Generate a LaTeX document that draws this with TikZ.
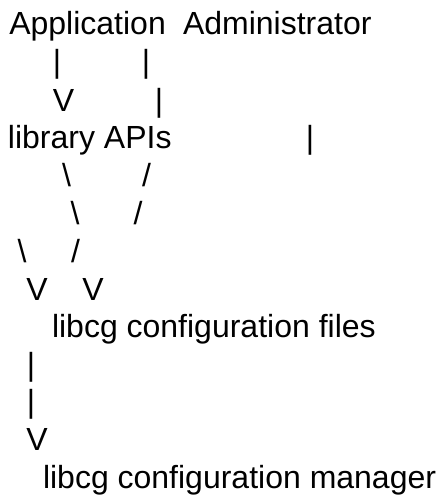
\documentclass[tikz,border=0pt]{standalone}
\usepackage{fontspec}
\setmainfont{Liberation Sans}
\begin{document}
\begin{tikzpicture}[x=1pt,y=-1pt,
  txt/.style={inner sep=0pt, outer sep=0pt, font=\fontsize{32}{38}\selectfont},
  word/.style={txt, anchor=base west},
  glyph/.style={txt, anchor=base}]
\useasboundingbox[fill=white] (0,0) rectangle (439,495);
% line 1
\node[word] (app) at (9.3,35) {Application};
\node[word] (adm) at (183,35) {Administrator};
% line 2
\node[glyph] (p21) at (57,72.7) {|};
\node[glyph] (p22) at (146,72.7) {|};
% line 3
\node[glyph] (v31) at (63.5,111) {V};
\node[glyph] (p32) at (159,111) {|};
% line 4
\node[word] (lib) at (8,148) {library APIs};
\node[glyph] (p41) at (310,148) {|};
% line 5
\node[glyph] (b51) at (66.5,186.5) {\textbackslash};
\node[glyph] (s52) at (146.5,186.5) {/};
% line 6
\node[glyph] (b61) at (75,224) {\textbackslash};
\node[glyph] (s62) at (138,224) {/};
% line 7
\node[glyph] (b71) at (22,262) {\textbackslash};
\node[glyph] (s72) at (75.5,262) {/};
% line 8
\node[glyph] (v81) at (37,300) {V};
\node[glyph] (v82) at (93,300) {V};
% line 9
\node[word] (files) at (52,337) {libcg configuration files};
% line 10-12
\node[glyph] (p10) at (31,375) {|};
\node[glyph] (p11) at (31,412.5) {|};
\node[glyph] (v12) at (37,450) {V};
% line 13
\node[word] (mgr) at (43,488) {libcg configuration manager};
\end{tikzpicture}
\end{document}
